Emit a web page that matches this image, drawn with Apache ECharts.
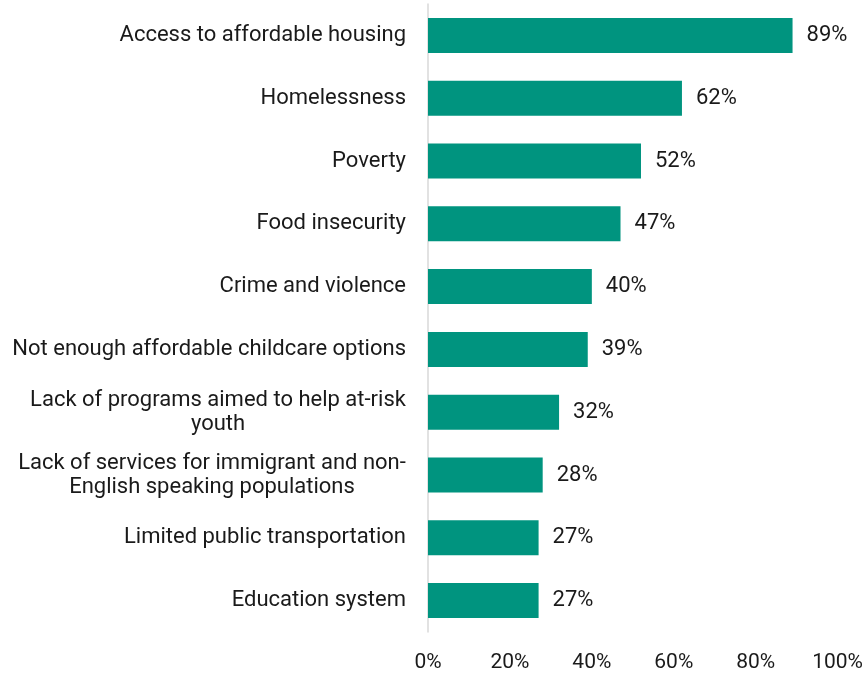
<!DOCTYPE html>
<html>
<head>
<meta charset="utf-8">
<script src="https://cdn.jsdelivr.net/npm/echarts@6/dist/echarts.min.js"></script>
<style>
  html, body { margin: 0; padding: 0; background: #fff; }
  #chart { width: 866px; height: 673px; }
</style>
</head>
<body>
<div id="chart"></div>
<script>
// Issues, listed top to bottom
const categories = [
  'Access to affordable housing',
  'Homelessness',
  'Poverty',
  'Food insecurity',
  'Crime and violence',
  'Not enough affordable childcare options',
  'Lack of programs aimed to help at-risk\nyouth',
  'Lack of services for immigrant and non-\nEnglish speaking populations',
  'Limited public transportation',
  'Education system'
];
// Share of respondents (%)
const values = [89, 62, 52, 47, 40, 39, 32, 28, 27, 27];
const xTicks = [0, 20, 40, 60, 80, 100];

const FONT = 'Roboto';
const FONT_SIZE = 22;
const LINE_H = 24;
const TEXT_COLOR = '#1a1a1a';
const BAR_COLOR = '#00947f';

// Measure text so multi-line labels can be centred within their block
const ctx = document.createElement('canvas').getContext('2d');
ctx.font = FONT_SIZE + 'px ' + FONT;
const rich = {};
const labelText = categories.map((c, i) => {
  const lines = c.split('\n');
  if (lines.length === 1) return c;
  const w = Math.ceil(Math.max(...lines.map(l => ctx.measureText(l).width)));
  const key = 'c' + i;
  rich[key] = { width: w, align: 'center', fontFamily: FONT, fontSize: FONT_SIZE, color: TEXT_COLOR, lineHeight: LINE_H };
  return lines.map(l => '{' + key + '|' + l + '}').join('\n');
});

const chart = echarts.init(document.getElementById('chart'), null, { renderer: 'canvas' });
chart.setOption({
  animation: false,
  grid: { left: 428, right: 28, top: 4, bottom: 41, containLabel: false },
  xAxis: {
    type: 'value',
    min: xTicks[0],
    max: xTicks[xTicks.length - 1],
    interval: 20,
    axisLine: { show: false },
    axisTick: { show: false },
    splitLine: { show: false },
    axisLabel: {
      formatter: v => v + '%',
      fontFamily: FONT, fontSize: 21, color: TEXT_COLOR, margin: 20
    }
  },
  yAxis: {
    type: 'category',
    inverse: true,
    data: categories,
    axisLine: { show: true, lineStyle: { color: '#d9d9d9', width: 1.5 } },
    axisTick: { show: false },
    axisLabel: {
      formatter: (v, i) => labelText[i],
      fontFamily: FONT, fontSize: FONT_SIZE, color: TEXT_COLOR,
      margin: 22, lineHeight: LINE_H, rich: rich
    }
  },
  series: [{
    type: 'bar',
    data: values,
    barWidth: 35,
    itemStyle: { color: BAR_COLOR },
    label: {
      show: true,
      position: 'right',
      distance: 14,
      formatter: p => p.value + '%',
      fontFamily: FONT, fontSize: FONT_SIZE, color: TEXT_COLOR
    }
  }]
});
</script>
</body>
</html>
